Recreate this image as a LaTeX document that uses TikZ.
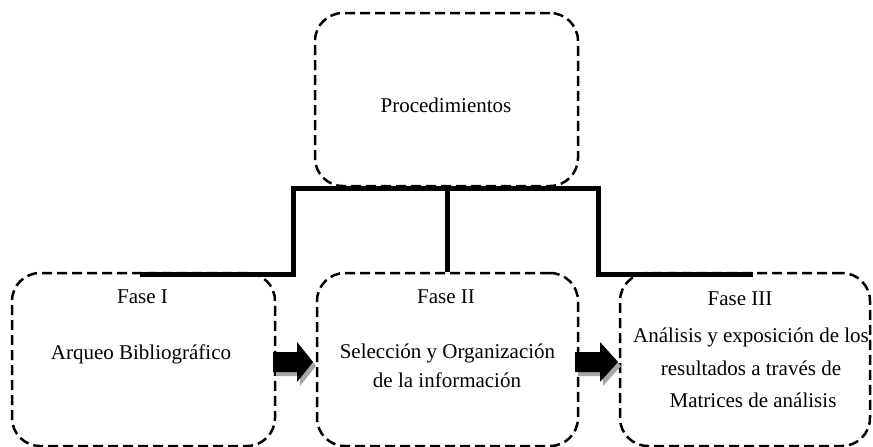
\documentclass[tikz,border=0pt]{standalone}
\usepackage{fontspec}
\setmainfont{Liberation Serif}
\begin{document}
\begin{tikzpicture}[x=1pt,y=-1pt,
  dbox/.style={draw, line width=2.5pt, dash pattern=on 10pt off 5pt, rounded corners=28pt,
    minimum height=173pt, inner sep=0pt},
  txt/.style={anchor=base, inner sep=0pt, font=\fontsize{21}{25}\selectfont},
  conn/.style={line width=5pt, miter limit=10},
  blockarrow/.style={fill=black},
  shadowarrow/.style={fill=black!35}]
\useasboundingbox (0,0) rectangle (873,447);
% boxes
\node[dbox, minimum width=263pt] (top) at (446.5,99.5) {};
\node[dbox, minimum width=263pt] (f1) at (143.5,359.5) {};
\node[dbox, minimum width=261pt] (f2) at (447.5,359.5) {};
\node[dbox, minimum width=250pt] (f3) at (745,359.5) {};
% texts
\node[txt] (tp) at (446,112) {Procedimientos};
\node[txt] (t1a) at (142.5,303) {Fase I};
\node[txt] (t1b) at (141,359) {Arqueo Bibliográfico};
\node[txt] (t2a) at (446,303) {Fase II};
\node[txt] (t2b) at (447.5,358) {Selección y Organización};
\node[txt] (t2c) at (447,387) {de la información};
\node[txt] (t3a) at (740,305) {Fase III};
\node[txt] (t3b) at (751,342) {Análisis y exposición de los};
\node[txt] (t3c) at (751,375) {resultados a través de};
\node[txt] (t3d) at (753,407) {Matrices de análisis};
% connectors
\coordinate (hl) at (293,188);
\coordinate (hr) at (598,188);
\coordinate (hm) at (447,188);
\coordinate (l1) at (140,274);
\coordinate (r1) at (753,274);
\draw[conn] (l1) -- (l1 -| hl) -- (hl) -- (hr) -- (hr |- r1) -- (r1);
\draw[conn] (hm) -- (hm |- f2.north);
% block arrows
\foreach \xa/\xb/\xc in {273/297/313, 575/600/618}{
  \fill[shadowarrow] (\xa+3,356) -- (\xb+3,356) -- (\xb+3,346) -- (\xc+3,366) -- (\xb+3,386) -- (\xb+3,376) -- (\xa+3,376) -- cycle;
  \fill[blockarrow] (\xa,352) -- (\xb,352) -- (\xb,342) -- (\xc,362) -- (\xb,382) -- (\xb,372) -- (\xa,372) -- cycle;
}
\end{tikzpicture}
\end{document}
